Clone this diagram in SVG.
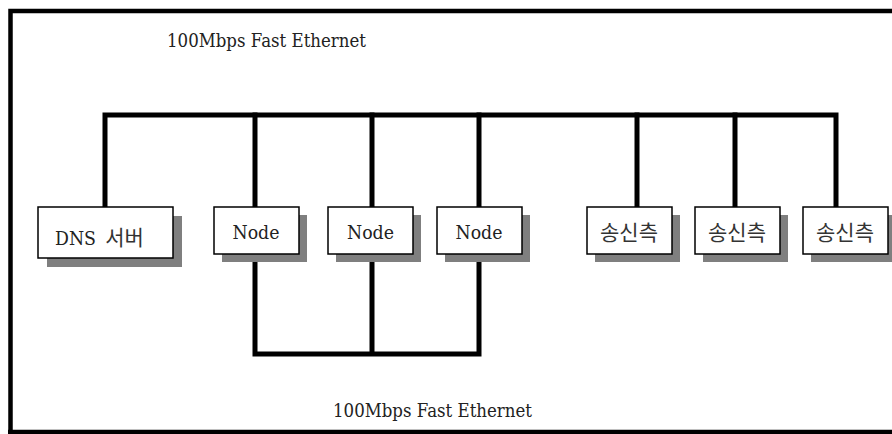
<svg xmlns="http://www.w3.org/2000/svg" width="892" height="434" viewBox="0 0 892 434">
<style>
.bus{fill:none;stroke:#000;stroke-width:5;stroke-linejoin:miter;stroke-linecap:square}
.box{fill:#fff;stroke:#000;stroke-width:1.5}
.sh{fill:#7f7f7f}
.lbl{font-family:"DejaVu Serif","Liberation Serif",serif;font-size:19px;fill:#222;text-anchor:middle}
.kr{font-family:"Noto Sans CJK KR",sans-serif;font-size:21px;fill:#333;text-anchor:middle}
.title{font-family:"DejaVu Serif","Liberation Serif",serif;font-size:18.5px;fill:#222}
</style>
<rect x="0" y="0" width="892" height="434" fill="#fff"/>
<path d="M10.5,434 V11 H892 M8,432 H892" fill="none" stroke="#000" stroke-width="4.5"/>
<text class="title" x="167" y="47" textLength="199" lengthAdjust="spacingAndGlyphs">100Mbps Fast Ethernet</text>
<text class="title" x="333" y="417" textLength="199" lengthAdjust="spacingAndGlyphs">100Mbps Fast Ethernet</text>
<g id="connectors">
<path class="bus" d="M105,207 V115 H836 V207"/>
<path class="bus" d="M255,115 V207 M372,115 V207 M479,115 V207 M637,115 V207 M735,115 V207"/>
<path class="bus" d="M255,254 V354 H479 V254 M372,254 V354"/>
</g>
<g id="dns">
<rect class="sh" x="47" y="216" width="135" height="51"/>
<rect class="box" x="38" y="207" width="135" height="51"/>
<text class="lbl" x="75.5" y="245" textLength="41" lengthAdjust="spacingAndGlyphs">DNS</text>
<text class="kr" x="124.5" y="245">서버</text>
</g>
<g id="node1">
<rect class="sh" x="222" y="215" width="85" height="47"/>
<rect class="box" x="214" y="207" width="85" height="47"/>
<text class="lbl" x="256" y="239" textLength="47" lengthAdjust="spacingAndGlyphs">Node</text>
</g>
<g id="node2">
<rect class="sh" x="336" y="215" width="85" height="47"/>
<rect class="box" x="328" y="207" width="85" height="47"/>
<text class="lbl" x="370.5" y="239" textLength="47" lengthAdjust="spacingAndGlyphs">Node</text>
</g>
<g id="node3">
<rect class="sh" x="445" y="215" width="85" height="47"/>
<rect class="box" x="437" y="207" width="85" height="47"/>
<text class="lbl" x="479" y="239" textLength="47" lengthAdjust="spacingAndGlyphs">Node</text>
</g>
<g id="sender1">
<rect class="sh" x="595" y="215" width="85" height="47"/>
<rect class="box" x="587" y="207" width="85" height="47"/>
<text class="kr" x="629" y="240">송신측</text>
</g>
<g id="sender2">
<rect class="sh" x="703" y="215" width="85" height="47"/>
<rect class="box" x="695" y="207" width="85" height="47"/>
<text class="kr" x="737" y="240">송신측</text>
</g>
<g id="sender3">
<rect class="sh" x="811" y="215" width="85" height="47"/>
<rect class="box" x="803" y="207" width="85" height="47"/>
<text class="kr" x="845" y="240">송신측</text>
</g>
</svg>
